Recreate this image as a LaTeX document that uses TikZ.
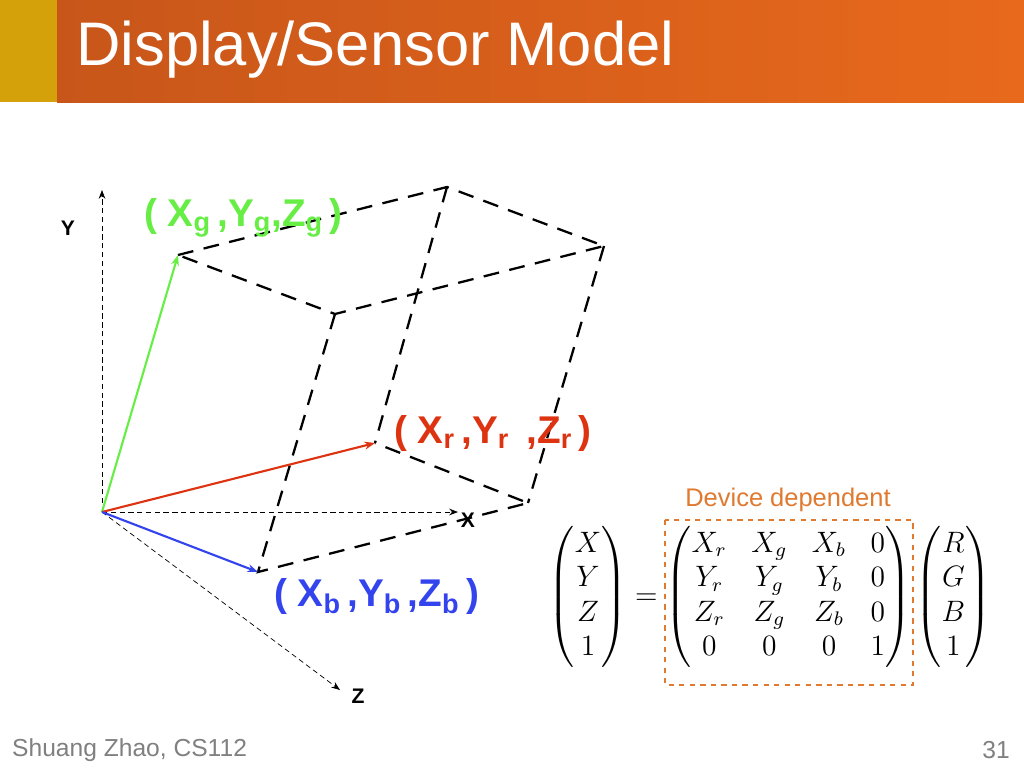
\documentclass[tikz,border=0pt]{standalone}
\usepackage{amsmath}
\usepackage{fontspec}
\setmainfont{Liberation Sans}
\usepackage{tikz}
\usetikzlibrary{arrows.meta}
\definecolor{barleft}{HTML}{D5A10A}
\definecolor{barorange}{HTML}{E8691C}
\definecolor{bardark}{HTML}{C8561A}
\definecolor{gvec}{HTML}{66EE44}
\definecolor{rvec}{HTML}{DD3311}
\definecolor{bvec}{HTML}{3344EE}
\definecolor{devbox}{HTML}{E07A30}
\tikzset{
  axis/.style={densely dashed, thin, -{Stealth[length=5pt]}},
  cube/.style={dash pattern=on 9pt off 6pt, line width=1.3pt},
  vec/.style={line width=1.2pt, -{Stealth[length=6pt]}},
  lbl/.style={font=\fontsize{22}{24}\selectfont\bfseries, anchor=west}
}
\begin{document}
\begin{tikzpicture}[x=0.02cm, y=-0.02cm]
\useasboundingbox (0,0) rectangle (1024,768);
\fill[white] (0,0) rectangle (1024,768);
% title bar
\shade[left color=bardark, right color=barorange] (57,0) rectangle (1024,102);
\fill[barleft] (0,0) rectangle (57,102);
\node[anchor=west, text=white, font=\fontsize{35}{38}\selectfont] (title) at (70,50) {Display/Sensor Model};

% axes
\coordinate (o) at (102,512);
\coordinate (ytip) at (102,190);
\coordinate (xtip) at (458,512);
\coordinate (ztip) at (340,690);
\draw[axis] (o) -- (ytip);
\draw[axis] (o) -- (xtip);
\draw[axis] (o) -- (ztip);
\node[font=\bfseries\large] (ylab) at (68,228) {Y};
\node[font=\bfseries\large] (xlab) at (468,520) {X};
\node[font=\bfseries\large] (zlab) at (358,696) {Z};

% cube
\coordinate (g) at (178,255);
\coordinate (t) at (447,187);
\coordinate (gb) at (604,246);
\coordinate (f) at (335,314);
\coordinate (r) at (375,443);
\coordinate (rb) at (528,503);
\coordinate (b) at (258,572);
\draw[cube] (g) -- (t) -- (gb) -- (f) -- cycle;
\draw[cube] (f) -- (b) -- (rb) -- (r);
\draw[cube] (t) -- (r);
\draw[cube] (gb) -- (rb);

% vectors
\draw[vec, gvec] (o) -- (g);
\draw[vec, rvec] (o) -- (r);
\draw[vec, bvec] (o) -- (b);

\node[lbl, text=gvec] (glab) at (138,218) {( X$_\mathbf{g}$\,,Y$_\mathbf{g}$,Z$_\mathbf{g}$\,)};
\node[lbl, text=rvec] (rlab) at (388,433) {( X$_\mathbf{r}$\,,Y$_\mathbf{r}$\, ,Z$_\mathbf{r}$\,)};
\node[lbl, text=bvec] (blab) at (268,596) {( X$_\mathbf{b}$\,,Y$_\mathbf{b}$\,,Z$_\mathbf{b}$\,)};

% matrix equation
\node[font=\large, scale=1.4] (eq) at (770,597) {$
\begin{pmatrix} X\\ Y\\ Z\\ 1\end{pmatrix}
=
\begin{pmatrix} X_r & X_g & X_b & 0\\ Y_r & Y_g & Y_b & 0\\ Z_r & Z_g & Z_b & 0\\ 0&0&0&1\end{pmatrix}
\begin{pmatrix} R\\ G\\ B\\ 1\end{pmatrix}$};
\draw[devbox, dashed, line width=1.3pt] (665,520) rectangle (913,685);
\node[text=devbox, font=\fontsize{14.5}{17}\selectfont] (dev) at (788,500) {Device dependent};

% footer
\node[anchor=west, text=gray, font=\fontsize{14}{17}\selectfont] (foot) at (6,750) {Shuang Zhao, CS112};
\node[anchor=east, text=gray, font=\fontsize{14}{17}\selectfont] (page) at (1016,750) {31};
\end{tikzpicture}
\end{document}
